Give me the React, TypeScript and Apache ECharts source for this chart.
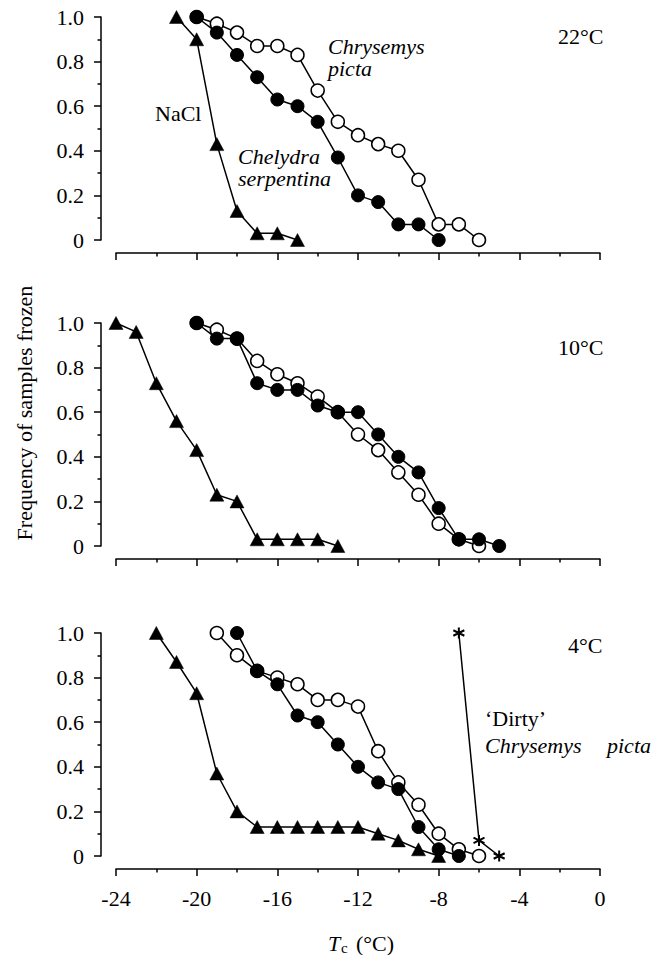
import React, { useEffect, useRef } from "react";
import * as echarts from "echarts";

// ---------- data ----------
const xTicks = [-24, -20, -16, -12, -8, -4, 0];
const yTicks = [0, 0.2, 0.4, 0.6, 0.8, 1.0];

// 22°C
const nacl22X = [-21, -20, -19, -18, -17, -16, -15];
const nacl22Y = [1.0, 0.9, 0.43, 0.13, 0.03, 0.03, 0];
const chelydra22X = [-20, -19, -18, -17, -16, -15, -14, -13, -12, -11, -10, -9, -8];
const chelydra22Y = [1.0, 0.93, 0.83, 0.73, 0.63, 0.6, 0.53, 0.37, 0.2, 0.17, 0.07, 0.07, 0];
const chrysemys22X = [-20, -19, -18, -17, -16, -15, -14, -13, -12, -11, -10, -9, -8, -7, -6];
const chrysemys22Y = [1.0, 0.97, 0.93, 0.87, 0.87, 0.83, 0.67, 0.53, 0.47, 0.43, 0.4, 0.27, 0.07, 0.07, 0];

// 10°C
const nacl10X = [-24, -23, -22, -21, -20, -19, -18, -17, -16, -15, -14, -13];
const nacl10Y = [1.0, 0.96, 0.73, 0.56, 0.43, 0.23, 0.2, 0.03, 0.03, 0.03, 0.03, 0];
const chelydra10X = [-20, -19, -18, -17, -16, -15, -14, -13, -12, -11, -10, -9, -8, -7, -6, -5];
const chelydra10Y = [1.0, 0.93, 0.93, 0.73, 0.7, 0.7, 0.63, 0.6, 0.6, 0.5, 0.4, 0.33, 0.17, 0.03, 0.03, 0];
const chrysemys10X = [-20, -19, -18, -17, -16, -15, -14, -13, -12, -11, -10, -9, -8, -7, -6];
const chrysemys10Y = [1.0, 0.97, 0.93, 0.83, 0.77, 0.73, 0.67, 0.6, 0.5, 0.43, 0.33, 0.23, 0.1, 0.03, 0];

// 4°C
const nacl4X = [-22, -21, -20, -19, -18, -17, -16, -15, -14, -13, -12, -11, -10, -9, -8];
const nacl4Y = [1.0, 0.87, 0.73, 0.37, 0.2, 0.13, 0.13, 0.13, 0.13, 0.13, 0.13, 0.1, 0.07, 0.03, 0];
const chelydra4X = [-18, -17, -16, -15, -14, -13, -12, -11, -10, -9, -8, -7];
const chelydra4Y = [1.0, 0.83, 0.77, 0.63, 0.6, 0.5, 0.4, 0.33, 0.3, 0.13, 0.03, 0];
const chrysemys4X = [-19, -18, -17, -16, -15, -14, -13, -12, -11, -10, -9, -8, -7, -6];
const chrysemys4Y = [1.0, 0.9, 0.83, 0.8, 0.77, 0.7, 0.7, 0.67, 0.47, 0.33, 0.23, 0.1, 0.03, 0];
const dirty4X = [-7, -6, -5];
const dirty4Y = [1.0, 0.07, 0];

const panelTitles = ["22°C", "10°C", "4°C"];

// ---------- layout ----------
const FONT = "Liberation Serif";
const GRID_LEFT = 116;
const GRID_W = 484;
const GRID_H = 223;
const gridTops = [17, 323, 633];

const zip = (xs: number[], ys: number[]) => xs.map((x, i) => [x, ys[i]]);

const ASTERISK =
  "path://M5,0 L5,10 M0.67,2.5 L9.33,7.5 M0.67,7.5 L9.33,2.5";

export default function App() {
  const ref = useRef<HTMLDivElement>(null);

  useEffect(() => {
    if (!ref.current) return;
    const chart = echarts.init(ref.current, null, { renderer: "svg" });

    const panels = [
      { nacl: zip(nacl22X, nacl22Y), chrys: zip(chrysemys22X, chrysemys22Y), chel: zip(chelydra22X, chelydra22Y) },
      { nacl: zip(nacl10X, nacl10Y), chrys: zip(chrysemys10X, chrysemys10Y), chel: zip(chelydra10X, chelydra10Y) },
      { nacl: zip(nacl4X, nacl4Y), chrys: zip(chrysemys4X, chrysemys4Y), chel: zip(chelydra4X, chelydra4Y), dirty: zip(dirty4X, dirty4Y) },
    ];

    const grids = gridTops.map((t) => ({ left: GRID_LEFT, width: GRID_W, top: t, height: GRID_H }));

    const xAxes = gridTops.map((_, i) => ({
      type: "value",
      gridIndex: i,
      min: xTicks[0],
      max: xTicks[xTicks.length - 1],
      interval: 4,
      position: "bottom",
      offset: 13,
      axisLine: { show: true, onZero: false, lineStyle: { color: "#000", width: 1.5 } },
      axisTick: { show: true, length: 7, lineStyle: { color: "#000", width: 1.5 } },
      minorTick: { show: true, splitNumber: 2, length: 3.5, lineStyle: { color: "#000", width: 1.5 } },
      splitLine: { show: false },
      axisLabel: {
        show: i === 2,
        margin: 18,
        color: "#000",
        fontFamily: FONT,
        fontSize: 22,
        formatter: (v: number) => String(v),
      },
    }));

    const yAxes = gridTops.map((_, i) => ({
      type: "value",
      gridIndex: i,
      min: yTicks[0],
      max: yTicks[yTicks.length - 1],
      interval: 0.2,
      position: "left",
      offset: 15,
      axisLine: { show: true, onZero: false, lineStyle: { color: "#000", width: 1.5 } },
      axisTick: { show: true, length: 7, lineStyle: { color: "#000", width: 1.5 } },
      minorTick: { show: true, splitNumber: 2, length: 3.5, lineStyle: { color: "#000", width: 1.5 } },
      splitLine: { show: false },
      axisLabel: {
        show: true,
        margin: 17,
        color: "#000",
        fontFamily: FONT,
        fontSize: 22,
        formatter: (v: number) => (Math.abs(v) < 1e-9 ? "0" : v.toFixed(1)),
      },
    }));

    const series: any[] = [];
    panels.forEach((p: any, i) => {
      series.push({
        type: "line",
        xAxisIndex: i,
        yAxisIndex: i,
        data: p.nacl,
        symbol: "triangle",
        symbolSize: [14, 13],
        lineStyle: { color: "#000", width: 1.5 },
        itemStyle: { color: "#000", borderColor: "#000", borderWidth: 0.5 },
        z: 2,
      });
      series.push({
        type: "line",
        xAxisIndex: i,
        yAxisIndex: i,
        data: p.chrys,
        symbol: "circle",
        symbolSize: 13,
        lineStyle: { color: "#000", width: 1.5 },
        itemStyle: { color: "#fff", borderColor: "#000", borderWidth: 1.5 },
        z: 3,
      });
      series.push({
        type: "line",
        xAxisIndex: i,
        yAxisIndex: i,
        data: p.chel,
        symbol: "circle",
        symbolSize: 13,
        lineStyle: { color: "#000", width: 1.5 },
        itemStyle: { color: "#000", borderColor: "#000", borderWidth: 1 },
        z: 4,
      });
      if (p.dirty) {
        series.push({
          type: "line",
          xAxisIndex: i,
          yAxisIndex: i,
          data: p.dirty,
          symbol: ASTERISK,
          symbolSize: 11,
          lineStyle: { color: "#000", width: 1.5 },
          itemStyle: { color: "#000", borderColor: "#000", borderWidth: 2 },
          z: 5,
        });
      }
    });

    const txt = (x: number, y: number, text: string, extra: any = {}) => ({
      type: "text",
      x,
      y,
      silent: true,
      ...(extra.rotation ? { rotation: extra.rotation } : {}),
      style: {
        text,
        fill: "#000",
        fontFamily: FONT,
        fontSize: extra.size || 22,
        fontStyle: extra.italic ? "italic" : "normal",
        lineHeight: extra.size ? extra.size : 20,
        align: extra.align || "left",
        verticalAlign: "middle",
      },
    });

    const graphic = [
      txt(558, 36, panelTitles[0]),
      txt(558, 347, panelTitles[1]),
      txt(568, 645, panelTitles[2]),
      txt(328, 46, "Chrysemys", { italic: true }),
      txt(328, 68, "picta", { italic: true }),
      txt(155, 113, "NaCl"),
      txt(238, 156, "Chelydra", { italic: true }),
      txt(238, 178, "serpentina", { italic: true }),
      txt(485, 718, "\u2018Dirty\u2019"),
      txt(485, 745, "Chrysemys", { italic: true }),
      txt(607, 745, "picta", { italic: true }),
      txt(24, 413, "Frequency of samples frozen", { align: "center", rotation: Math.PI / 2 }),
      txt(328, 943, "T", { italic: true }),
      txt(341, 948, "c", { size: 15 }),
      txt(356, 943, "(°C)"),
    ];

    chart.setOption({
      animation: false,
      backgroundColor: "#fff",
      textStyle: { fontFamily: FONT },
      grid: grids,
      xAxis: xAxes,
      yAxis: yAxes,
      series,
      graphic,
    });

    return () => chart.dispose();
  }, []);

  return (
    <div
      ref={ref}
      style={{ position: "absolute", left: 0, top: 0, width: 654, height: 955 }}
    />
  );
}
